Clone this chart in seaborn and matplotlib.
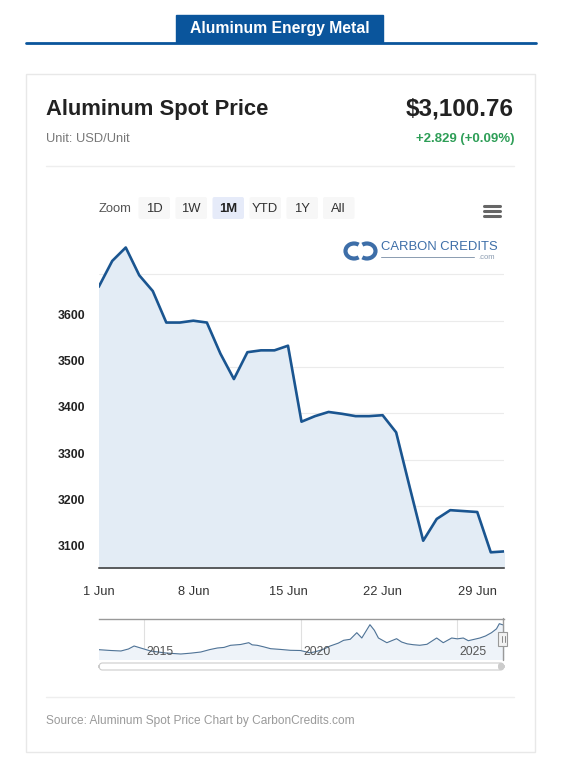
import pandas as pd
import numpy as np
import seaborn as sns
import matplotlib.pyplot as plt
import matplotlib.dates as mdates
from matplotlib.patches import Rectangle, FancyBboxPatch, Arc
from matplotlib.transforms import ScaledTranslation

# Daily spot price, 1 Jun - 1 Jul
dates = pd.date_range("2026-06-01", "2026-07-01", freq="D")
prices = [3673, 3729, 3758, 3698, 3664, 3596, 3596, 3600, 3596, 3529,
          3474, 3532, 3536, 3536, 3546, 3382, 3394, 3403, 3399, 3394,
          3394, 3396, 3359, 3241, 3125, 3172, 3191, 3189, 3187, 3100,
          3102]
y_ticks = [3100, 3200, 3300, 3400, 3500, 3600, 3700]
y_tick_labels = ["3100", "3200", "3300", "3400", "3500", "3600", ""]
x_tick_days = ["2026-06-01", "2026-06-08", "2026-06-15", "2026-06-22", "2026-06-29"]
x_tick_labels = ["1 Jun", "8 Jun", "15 Jun", "22 Jun", "29 Jun"]

# Long history shown in the navigator (year, price), rough reading
nav_years = [2013.56, 2013.94, 2014.26, 2014.50, 2014.68, 2014.89, 2015.21, 2015.69,
             2016.17, 2016.50, 2016.81, 2017.10, 2017.34, 2017.55, 2017.76, 2018.08,
             2018.34, 2018.45, 2018.61, 2018.80, 2019.04, 2019.35, 2019.67, 2019.99,
             2020.30, 2020.47, 2020.70, 2020.94, 2021.20, 2021.37, 2021.58, 2021.79,
             2021.95, 2022.21, 2022.35, 2022.48, 2022.75, 2023.06, 2023.22, 2023.40,
             2023.59, 2023.80, 2024.03, 2024.34, 2024.55, 2024.82, 2025.00, 2025.19,
             2025.35, 2025.72, 2025.90, 2026.09, 2026.25, 2026.34, 2026.47]
nav_prices = [1940, 1884, 1850, 1990, 2199, 2059, 1849, 1709,
              1639, 1700, 1779, 1950, 2059, 2100, 2248, 2304,
              2430, 2280, 2248, 2150, 2010, 1960, 1898, 1884,
              1720, 1800, 1950, 2199, 2400, 2598, 2668, 3130,
              2759, 3690, 3300, 2759, 2430, 2710, 2479, 2350,
              2290, 2250, 2318, 2759, 2430, 2759, 2700, 2759,
              2570, 2759, 2900, 3130, 3400, 3760, 3669]
nav_year_ticks = [2015, 2020, 2025]

W, H = 562, 763


def fx(x):
    return x / W


def fy(y):
    return 1 - y / H


def axes_box(x0, y0, x1, y1):
    return [fx(x0), fy(y1), fx(x1) - fx(x0), fy(y0) - fy(y1)]


sns.set_style("white")
plt.rcParams['font.family'] = ['Liberation Sans', 'DejaVu Sans']

fig = plt.figure(figsize=(W / 100, H / 100), dpi=100)

# page header: blue tab and rule
fig.patches.append(Rectangle((fx(176), fy(42)), fx(383) - fx(176), fy(15) - fy(42),
                             transform=fig.transFigure, color="#0a559c", zorder=-1))
fig.lines.append(plt.Line2D([fx(26), fx(536)], [fy(42.5), fy(42.5)],
                            transform=fig.transFigure, color="#0a559c", lw=2, zorder=-1))
fig.text(fx(280), fy(29), "Aluminum Energy Metal", color="white", fontsize=11.3,
         fontweight="bold", ha="center", va="center")

# card
fig.patches.append(Rectangle((fx(25.5), fy(752)), fx(535) - fx(25.5), fy(74) - fy(752),
                             transform=fig.transFigure, facecolor="white",
                             edgecolor="#e8e8e8", lw=1, zorder=-2))
fig.text(fx(46), fy(109), "Aluminum Spot Price", fontsize=15.8, fontweight="bold",
         color="#222222", ha="left", va="center")
fig.text(fx(514), fy(109), "$3,100.76", fontsize=17.5, fontweight="bold",
         color="#222222", ha="right", va="center")
fig.text(fx(46), fy(139), "Unit: USD/Unit", fontsize=9.3, color="#777777",
         ha="left", va="center")
fig.text(fx(514), fy(139), "+2.829 (+0.09%)", fontsize=9.5, fontweight="bold",
         color="#2e9e57", ha="right", va="center")
for yy in (166, 697):
    fig.lines.append(plt.Line2D([fx(46), fx(514)], [fy(yy), fy(yy)],
                                transform=fig.transFigure, color="#eeeeee", lw=1, zorder=-1))
fig.text(fx(46), fy(721), "Source: Aluminum Spot Price Chart by CarbonCredits.com",
         fontsize=8.6, color="#9a9a9a", ha="left", va="center")

# range selector buttons
fig.text(fx(99), fy(208.5), "Zoom", fontsize=9.4, color="#555555", ha="left", va="center")
buttons = ["1D", "1W", "1M", "YTD", "1Y", "All"]
btn_x = [138.5, 175.5, 212.5, 249.5, 286.5, 323]
for lab, bx in zip(buttons, btn_x):
    sel = lab == "1M"
    fig.patches.append(FancyBboxPatch((fx(bx), fy(219)), fx(31.5), fy(197) - fy(219),
                                      boxstyle="round,pad=0,rounding_size=0.003",
                                      transform=fig.transFigure,
                                      facecolor="#e6ebf9" if sel else "#f7f7f7",
                                      edgecolor="none", zorder=-1))
    fig.text(fx(bx + 15.75), fy(208.5), lab, fontsize=9.4, color="#222222" if sel else "#333333",
             fontweight="bold" if sel else "normal", ha="center", va="center")

# context menu icon
for yy in (206, 211, 216):
    fig.lines.append(plt.Line2D([fx(484), fx(499.5)], [fy(yy), fy(yy)],
                                transform=fig.transFigure, color="#666666", lw=2.2))

# main price chart
ax = fig.add_axes(axes_box(98.7, 235, 504.3, 567.7))
ax.patch.set_alpha(0)
df = pd.DataFrame({"date": dates, "price": prices})
ax.fill_between(df["date"], df["price"], 3000, color="#e3ecf5", zorder=1)
sns.lineplot(data=df, x="date", y="price", ax=ax, color="#1a5590", lw=1.9, zorder=3)
ax.set_xlim(dates[0], dates[-1])
ax.set_ylim(3066.8, 3785)
ax.set_yticks(y_ticks)
ax.set_yticklabels(y_tick_labels)
ax.set_xticks(pd.to_datetime(x_tick_days))
ax.set_xticklabels(x_tick_labels)
ax.set_xlabel("")
ax.set_ylabel("")
ax.grid(axis="y", color="#ebebeb", lw=0.8, zorder=0)
ax.set_axisbelow(True)
for s in ["top", "right", "left"]:
    ax.spines[s].set_visible(False)
ax.spines["bottom"].set_color("#333333")
ax.spines["bottom"].set_linewidth(1.1)
ax.tick_params(axis="x", length=7, width=1, color="#333333", pad=6.5,
               labelsize=9.3, labelcolor="#333333")
ax.tick_params(axis="y", length=0, pad=10, labelsize=8.8, labelcolor="#222222")
for lab in ax.get_yticklabels():
    lab.set_fontweight("bold")
    lab.set_transform(lab.get_transform() + ScaledTranslation(0, 6.5 / 100, fig.dpi_scale_trans))

# watermark logo
logo_col = "#3d6ea8"
fig.patches.append(Arc((fx(354), fy(251)), fx(17), fy(0) - fy(15), theta1=45, theta2=315,
                       transform=fig.transFigure, color=logo_col, lw=3))
fig.patches.append(Arc((fx(367), fy(251)), fx(17), fy(0) - fy(15), theta1=225, theta2=495,
                       transform=fig.transFigure, color=logo_col, lw=3))
fig.text(fx(381), fy(247.5), "CARBON CREDITS", fontsize=9.4, color=logo_col,
         ha="left", va="center")
fig.lines.append(plt.Line2D([fx(381), fx(474)], [fy(257.5), fy(257.5)],
                            transform=fig.transFigure, color="#8a9bb0", lw=0.7))
fig.text(fx(495), fy(257.5), ".com", fontsize=5.5, color="#8a9bb0", ha="right", va="center")

# navigator
nav = fig.add_axes(axes_box(99, 618.7, 504, 658.7))
nav.patch.set_alpha(0)
ndf = pd.DataFrame({"year": nav_years, "price": nav_prices})
nav.fill_between(ndf["year"], ndf["price"], 1000, color="#eef3f9", zorder=1)
sns.lineplot(data=ndf, x="year", y="price", ax=nav, color="#4f7396", lw=0.8, zorder=3)
nav.set_xlim(nav_years[0], nav_years[-1] + 0.02)
nav.set_ylim(1310, 4110)
nav.set_xticks([])
nav.set_yticks([])
nav.set_xlabel("")
nav.set_ylabel("")
for yr in nav_year_ticks:
    nav.axvline(yr, color="#e0e0e0", lw=0.8, zorder=0)
    nav.text(yr + 0.08, 1750, str(yr), fontsize=8.8, color="#555555",
             ha="left", va="center", zorder=4)
for s in ["right", "left", "bottom"]:
    nav.spines[s].set_visible(False)
nav.spines["top"].set_color("#999999")
nav.spines["top"].set_linewidth(1)

# navigator handle
fig.lines.append(plt.Line2D([fx(503), fx(503)], [fy(618), fy(660)],
                            transform=fig.transFigure, color="#999999", lw=1))
fig.patches.append(Rectangle((fx(498.5), fy(646)), fx(9), fy(632) - fy(646),
                             transform=fig.transFigure, facecolor="#f2f2f2",
                             edgecolor="#999999", lw=0.8, zorder=5))
for xx in (502, 504.5):
    fig.lines.append(plt.Line2D([fx(xx), fx(xx)], [fy(636), fy(642)],
                                transform=fig.transFigure, color="#888888", lw=0.7, zorder=6))

# scrollbar
fig.patches.append(FancyBboxPatch((fx(99), fy(670)), fx(405), fy(663) - fy(670),
                                  boxstyle="round,pad=0,rounding_size=0.006",
                                  transform=fig.transFigure, facecolor="white",
                                  edgecolor="#cccccc", lw=0.8))
fig.patches.append(FancyBboxPatch((fx(498), fy(670)), fx(6), fy(663) - fy(670),
                                  boxstyle="round,pad=0,rounding_size=0.004",
                                  transform=fig.transFigure, facecolor="#cccccc",
                                  edgecolor="none"))

fig.savefig("out.png", dpi=100, facecolor="white")
